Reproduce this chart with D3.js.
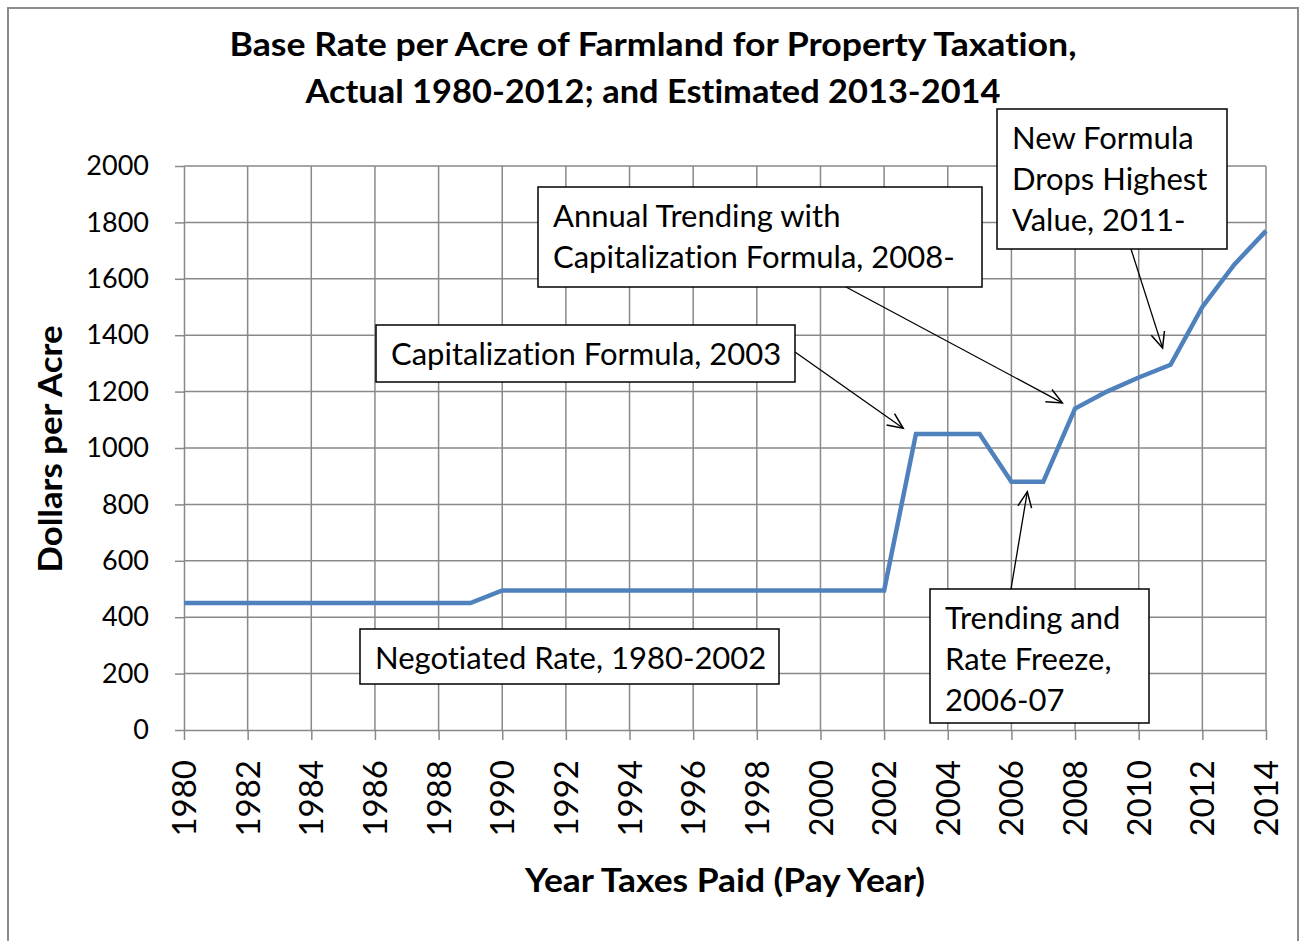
<!DOCTYPE html>
<html>
<head>
<meta charset="utf-8">
<script src="https://cdn.jsdelivr.net/npm/d3@7"></script>
<style>
  body { margin: 0; background: #fff; }
  svg { display: block; font-family: Lato, "Open Sans", sans-serif; }
  svg text, svg tspan {
    font-variant-ligatures: none;
    font-feature-settings: "liga" 0, "clig" 0, "dlig" 0, "calt" 0;
  }
</style>
</head>
<body>
<div id="chart"></div>
<script>
// pay years and base rate per acre ($)
const years = d3.range(1980, 2015);
const rates = [
  450, 450, 450, 450, 450, 450, 450, 450, 450, 450, // 1980-1989
  495, 495, 495, 495, 495, 495, 495, 495, 495, 495, // 1990-1999
  495, 495, 495, 1050, 1050, 1050, 880, 880, 1140, 1200, // 2000-2009
  1250, 1295, 1500, 1650, 1770 // 2010-2014
];
const yTicks = d3.range(0, 2001, 200);
const xTicks = d3.range(1980, 2015, 2);

const titleLines = [
  "Base Rate per Acre of Farmland for Property Taxation,",
  "Actual 1980-2012; and Estimated 2013-2014"
];
const xTitle = "Year Taxes Paid (Pay Year)";
const yTitle = "Dollars per Acre";

// annotation text + arrow tip in data units (year, $)
const noteTexts = [
  ["Capitalization Formula, 2003"],
  ["Annual Trending with", "Capitalization Formula, 2008-"],
  ["New Formula", "Drops Highest", "Value, 2011-"],
  ["Trending and", "Rate Freeze,", "2006-07"],
  ["Negotiated Rate, 1980-2002"]
];
const noteTips = [[2002.6, 1070], [2007.6, 1160], [2010.75, 1355], [2006.5, 845], null];

// layout of the annotation boxes (pixels): x0, y0, x1, y1, arrow tail
const noteBoxes = [
  { x0: 376, y0: 325, x1: 795, y1: 382, tail: [795, 352] },
  { x0: 538, y0: 187, x1: 982, y1: 287, tail: [846, 287] },
  { x0: 997, y0: 109, x1: 1227, y1: 249, tail: [1131, 249] },
  { x0: 930, y0: 589, x1: 1149, y1: 723, tail: [1011, 589] },
  { x0: 360, y0: 629, x1: 779, y1: 684, tail: null }
];

const W = 1300, H = 941;
const plot = { left: 184, right: 1266, top: 166, bottom: 730 };

const svg = d3.select("#chart").append("svg")
  .attr("width", W)
  .attr("height", H);

svg.append("rect")
  .attr("x", 8).attr("y", 8)
  .attr("width", 1290).attr("height", 960)
  .attr("fill", "#fff")
  .attr("stroke", "#8c8c8c")
  .attr("stroke-width", 2);

const x = d3.scaleLinear().domain([1980, 2014]).range([plot.left, plot.right]);
const y = d3.scaleLinear().domain([0, 2000]).range([plot.bottom, plot.top]);

// gridlines
const grid = svg.append("g").attr("stroke", "#898989").attr("stroke-width", 1.5);
grid.selectAll("line.h")
  .data(yTicks.slice(1))
  .join("line")
  .attr("x1", plot.left).attr("x2", plot.right)
  .attr("y1", (d) => y(d)).attr("y2", (d) => y(d));
grid.selectAll("line.v")
  .data(xTicks.slice(1))
  .join("line")
  .attr("x1", (d) => x(d)).attr("x2", (d) => x(d))
  .attr("y1", plot.top).attr("y2", plot.bottom);

// y axis
const yAxis = svg.append("g")
  .attr("transform", `translate(${plot.left},0)`)
  .call(d3.axisLeft(y).tickValues(yTicks).tickFormat(d3.format("d"))
    .tickSize(9).tickPadding(26).tickSizeOuter(0));
yAxis.select(".domain").attr("stroke", "#898989").attr("stroke-width", 1.5);
yAxis.selectAll(".tick line").attr("stroke", "#898989").attr("stroke-width", 1.5);
yAxis.selectAll(".tick text")
  .attr("font-family", "Lato, sans-serif")
  .attr("font-size", 27)
  .attr("fill", "#000");

// x axis
const xAxis = svg.append("g")
  .attr("transform", `translate(0,${plot.bottom})`)
  .call(d3.axisBottom(x).tickValues(xTicks).tickFormat(d3.format("d")).tickSize(10).tickSizeOuter(0));
xAxis.select(".domain").attr("stroke", "#898989").attr("stroke-width", 1.5);
xAxis.selectAll(".tick line").attr("stroke", "#898989").attr("stroke-width", 1.5);
xAxis.selectAll(".tick text")
  .attr("font-family", "Lato, sans-serif")
  .attr("font-size", 33)
  .attr("fill", "#000")
  .attr("text-anchor", "end")
  .attr("transform", "rotate(-90)")
  .attr("x", -30)
  .attr("y", 0)
  .attr("dy", "0.35em");

// data line
const line = d3.line()
  .x((d, i) => x(years[i]))
  .y((d) => y(d));
svg.append("path")
  .datum(rates)
  .attr("d", line)
  .attr("fill", "none")
  .attr("stroke", "#4f81bd")
  .attr("stroke-width", 4.5)
  .attr("stroke-linejoin", "miter");

// annotations
const notes = svg.append("g");
noteTexts.forEach((lines, i) => {
  const b = noteBoxes[i];
  notes.append("rect")
    .attr("x", b.x0).attr("y", b.y0)
    .attr("width", b.x1 - b.x0).attr("height", b.y1 - b.y0)
    .attr("fill", "#fff")
    .attr("stroke", "#000")
    .attr("stroke-width", 1.5);
  notes.append("text")
    .attr("x", b.x0 + 15)
    .attr("y", b.y0 + 40)
    .attr("font-size", 31)
    .attr("fill", "#000")
    .selectAll("tspan")
    .data(lines)
    .join("tspan")
    .attr("x", b.x0 + 15)
    .attr("dy", (d, j) => (j === 0 ? 0 : 41))
    .text((d) => d);

  const tip = noteTips[i];
  if (tip && b.tail) {
    const tx = x(tip[0]), ty = y(tip[1]);
    const [sx, sy] = b.tail;
    const ang = Math.atan2(ty - sy, tx - sx);
    const len = 17, spread = 0.42;
    notes.append("line")
      .attr("x1", sx).attr("y1", sy)
      .attr("x2", tx).attr("y2", ty)
      .attr("stroke", "#000").attr("stroke-width", 1.3);
    notes.append("path")
      .attr("d", `M${tx - len * Math.cos(ang - spread)},${ty - len * Math.sin(ang - spread)}` +
        `L${tx},${ty}` +
        `L${tx - len * Math.cos(ang + spread)},${ty - len * Math.sin(ang + spread)}`)
      .attr("fill", "none")
      .attr("stroke", "#000").attr("stroke-width", 1.5);
  }
});

// titles (widths matched to the condensed face of the original)
const titleWidths = [847, 695];
svg.append("g")
  .attr("font-weight", "bold")
  .attr("font-size", 33)
  .attr("text-anchor", "middle")
  .selectAll("text")
  .data(titleLines)
  .join("text")
  .attr("x", 653)
  .attr("y", (d, i) => 56 + i * 47)
  .attr("textLength", (d, i) => titleWidths[i])
  .attr("lengthAdjust", "spacingAndGlyphs")
  .text((d) => d);

svg.append("text")
  .attr("x", 725).attr("y", 892)
  .attr("text-anchor", "middle")
  .attr("font-weight", "bold")
  .attr("font-size", 33)
  .attr("textLength", 400)
  .attr("lengthAdjust", "spacingAndGlyphs")
  .text(xTitle);

svg.append("text")
  .attr("transform", "translate(62,449) rotate(-90)")
  .attr("text-anchor", "middle")
  .attr("font-weight", "bold")
  .attr("font-size", 33)
  .attr("textLength", 247)
  .attr("lengthAdjust", "spacingAndGlyphs")
  .text(yTitle);
</script>
</body>
</html>
